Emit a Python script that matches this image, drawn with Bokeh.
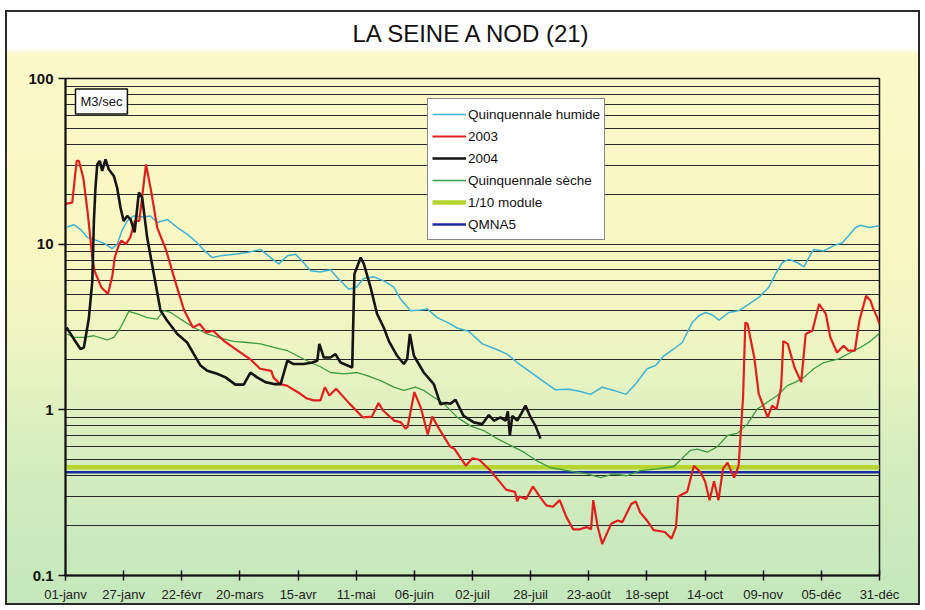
from bokeh.plotting import figure
from bokeh.models import (Range1d, FixedTicker, CustomJSTickFormatter, Label, Legend, LegendItem, Title)
from bokeh.embed import file_html
from bokeh.resources import INLINE

# ---------------- data ----------------
tick_days = [0, 26, 52, 78, 104, 130, 156, 182, 208, 234, 260, 286, 312, 338, 364]
tick_labels = ["01-janv", "27-janv", "22-févr", "20-mars", "15-avr", "11-mai", "06-juin",
               "02-juil", "28-juil", "23-août", "18-sept", "14-oct", "09-nov", "05-déc", "31-déc"]

humide_days = [0.7, 3.7, 6.7, 9.7, 14.2, 17.9, 20.8, 23.1, 25.3, 27.6, 30.5, 35, 38, 41, 45.5, 50, 54.4,
               58.9, 61.9, 65.6, 69.3, 75.3, 81.3, 87.2, 91.7, 95.4, 99.2, 102.9, 106.6, 109.6, 114, 118.5,
               121.5, 126.7, 130, 133.4, 137.9, 142.3, 146.8, 149.8, 154.3, 158.8, 161.8, 166.2, 170.7,
               175.2, 180.4, 186.4, 192.3, 197.5, 202, 207.2, 213.2, 219.1, 225, 230.3, 234.8, 240, 245.2,
               250.7, 254.9, 260.1, 263.9, 267.6, 272, 275.8, 280.3, 283.2, 286.2, 289.2, 292.2, 296.6,
               301.1, 305.6, 310, 314.5, 317.5, 320.5, 323.5, 327.2, 330.2, 332.4, 334.6, 339.1, 343.6,
               347.4, 349.6, 353.3, 355.5, 359.3, 364]
humide_vals = [12.7, 13.1, 12.3, 11, 10.5, 10, 9.4, 10, 12.1, 13.8, 14.8, 14.6, 14.8, 13.5, 14.1, 12.6, 11.5,
               10.2, 9.2, 8.3, 8.5, 8.7, 8.9, 9.3, 8.3, 7.6, 8.5, 8.7, 7.7, 6.9, 6.8, 7.0,
               6.3, 5.35, 5.5, 6.2, 6.35, 6.0, 5.5, 4.66, 3.97, 4.0, 4.06, 3.6, 3.37,
               3.12, 2.97, 2.5, 2.33, 2.17, 1.93, 1.72, 1.50, 1.32, 1.33, 1.29, 1.24, 1.37, 1.31,
               1.24, 1.43, 1.77, 1.85, 2.12, 2.33, 2.55, 3.37, 3.7, 3.87, 3.75, 3.48, 3.87,
               3.97, 4.35, 4.77, 5.5, 6.6, 7.75, 8.1, 7.75, 7.3, 8.3, 9.3, 9.1, 9.8,
               10.2, 11, 12.6, 13, 12.6, 12.9]

y2003_days = [0, 3, 5, 6, 8, 10, 12, 13, 16, 19, 21, 22, 24, 25, 27, 29, 31, 33, 36, 38, 41, 45, 49, 53,
              57, 60, 63, 66, 71, 77, 83, 87, 92, 93, 96, 99, 105, 108, 111, 114, 116, 118, 121, 127,
              133, 137, 140, 142, 147, 150, 152, 153, 156, 159, 162, 164, 167, 172, 174, 179, 182, 185,
              190, 194, 197, 201, 202, 203, 206, 209, 212, 215, 218, 221, 224, 227, 230, 233, 235, 236,
              238, 240, 244, 247, 249, 253, 255, 257, 260, 263, 268, 271, 273, 274, 278, 281, 284, 286,
              288, 290, 292, 294, 296, 299, 301, 303, 304, 305, 308, 310, 314, 316, 318, 320, 321, 323,
              326, 329, 331, 334, 337, 340, 342, 345, 348, 350, 353, 355, 358, 360, 361, 363, 364]
y2003_vals = [17.5, 17.8, 31.8, 31.8, 25, 15.2, 8.3, 6.9, 5.5, 5.0, 6.5, 8.3, 10, 10.5, 10, 11, 13.8, 13.8,
              30.3, 22, 12.6, 9.2, 6.0, 4.0,
              3.14, 3.3, 2.93, 3.0, 2.6, 2.28, 2.0, 1.77, 1.72, 1.57, 1.43, 1.40, 1.25, 1.17, 1.14, 1.14,
              1.37, 1.22, 1.34, 1.09,
              0.90, 0.91, 1.1, 0.99, 0.86, 0.84, 0.77, 0.79, 1.28, 1.02, 0.71, 0.91, 0.77, 0.60, 0.58,
              0.46, 0.51, 0.50,
              0.43, 0.37, 0.33, 0.32, 0.28, 0.30, 0.29, 0.345, 0.30, 0.265, 0.26, 0.285, 0.225, 0.19,
              0.19, 0.196, 0.19, 0.285,
              0.196, 0.155, 0.205, 0.215, 0.21, 0.27, 0.28, 0.24, 0.215, 0.188, 0.183, 0.167, 0.196,
              0.30, 0.32, 0.46, 0.42, 0.37,
              0.285, 0.37, 0.285, 0.44, 0.48, 0.39, 0.46, 1.2, 3.37, 3.3, 2.07, 1.25, 0.90, 1.06, 1.01,
              1.37, 2.6, 2.5,
              1.8, 1.47, 2.87, 3.0, 4.35, 3.8, 2.74, 2.22, 2.44, 2.28, 2.28, 3.45, 4.88, 4.55, 4.15,
              3.6, 3.3]

y2004_days = [0.5, 3.7, 6.7, 8.2, 10.4, 12, 12.7, 13.4, 14.2, 15.3, 16.4, 17.9, 19.4, 21.6, 23.1, 24.6,
              26, 27.6, 29.1, 30.9, 32.8, 34.3, 36.5, 39.5, 42.5, 45.5, 50, 54.4, 57.4, 60.4, 63.4, 67.8,
              71.6, 76, 79.7, 82.7, 85.7, 89.4, 93.2, 96.2, 99.2, 102, 106.6, 110.3, 112.6, 113.5, 115.5,
              118.5, 120.7, 123, 128.2, 129.2, 132, 133.4, 136.4, 139.3, 142.3, 144.6, 148.3, 151.3,
              152.8, 154, 155.8, 160.2, 164.7, 167.7, 170, 172.2, 174.4, 178, 182.6, 186.4, 189.3, 191.6,
              194.5, 196.8, 197.8, 198.7, 199.8, 202, 203.8, 205.7, 208, 210.2, 212.4]
y2004_vals = [3.14, 2.68, 2.33, 2.38, 3.53, 6.0, 13.8, 21.9, 30.3, 31.8, 27.7, 32.5, 28.2, 25.8, 21.9, 16.6,
              13.8, 14.8, 14.1, 11.8, 20.5, 19.1, 11, 6.6, 3.97, 3.45, 2.87, 2.55, 2.17, 1.85, 1.72, 1.65,
              1.57, 1.42, 1.42, 1.68, 1.57, 1.47, 1.43, 1.43, 1.98, 1.89, 1.89, 1.93, 1.98, 2.5, 2.07,
              2.07, 2.17, 1.93, 1.8, 6.6, 8.3, 7.6, 5.5, 3.8, 3.14, 2.6, 2.12, 1.89,
              2.03, 2.87, 2.12, 1.68, 1.43, 1.08, 1.1, 1.09, 1.15, 0.92, 0.84, 0.82, 0.93, 0.86,
              0.90, 0.86, 0.98, 0.70, 0.92, 0.86, 0.95, 1.06, 0.90, 0.80, 0.67]

seche_days = [0.7, 3.7, 8.2, 12.7, 18.6, 21.6, 24.6, 28.3, 32.1, 36.5, 41, 44, 47, 51.4, 57.4, 63.4, 69.3,
              75.3, 81.3, 87.2, 93.2, 99.2, 105.1, 109.6, 114, 118.5, 124.5, 130.4, 134.9, 140.9, 146.8,
              151.3, 156.5, 160.2, 164.7, 169.2, 175.2, 181, 187, 193, 199, 205, 211, 217, 224.4, 233.3,
              239.3, 245.2, 251, 257, 264.6, 272, 275.8, 279.5, 282.5, 287, 291.5, 296, 300.3, 304.9,
              309.3, 313.8, 318.3, 322.8, 326.5, 330.2, 334.6, 339.1, 345.8, 351.1, 355.5, 360, 364]
seche_vals = [2.87, 2.74, 2.74, 2.80, 2.64, 2.74, 3.14, 3.93, 3.79, 3.6, 3.53, 3.97, 3.87, 3.53, 3.14, 2.87,
              2.71, 2.59, 2.55, 2.5, 2.38, 2.28, 2.07, 1.93, 1.82, 1.68, 1.65, 1.68, 1.61, 1.50, 1.37,
              1.31, 1.37, 1.31, 1.19, 1.09, 0.90, 0.80, 0.75, 0.67, 0.61, 0.555, 0.49, 0.447, 0.43, 0.41,
              0.39, 0.41, 0.40, 0.43, 0.44, 0.455, 0.51, 0.57, 0.58, 0.555, 0.60, 0.70, 0.72, 0.82,
              1.01, 1.11, 1.22, 1.40, 1.47, 1.57, 1.77, 1.93, 2.03, 2.22, 2.38, 2.6, 2.9]

module_value = 0.45
qmna5_value = 0.42

y_major = [0.1, 1, 10, 100]
y_minor = [0.2, 0.3, 0.4, 0.5, 0.6, 0.7, 0.8, 0.9, 2, 3, 4, 5, 6, 7, 8, 9,
           20, 30, 40, 50, 60, 70, 80, 90]

# ---------------- figure ----------------
p = figure(width=915, height=595, output_backend="svg", toolbar_location=None,
           y_axis_type="log", x_range=Range1d(tick_days[0], tick_days[-1]),
           y_range=Range1d(0.1, 100),
           min_border_left=60, min_border_right=41, min_border_top=68, min_border_bottom=30)

p.background_fill_color = None
p.border_fill_color = None
p.outline_line_color = "#111111"
p.outline_line_width = 1.5
p.styles = {
    "margin": "10px 0px 0px 5px",
    "background": "linear-gradient(to bottom, #ffffff 0px, #ffffff 38px, #fcf9c9 44px, #f9f7c3 40%, "
                  "#eef5c2 56%, #d9eec0 72%, #cbeabd 88%, #c4e8bc 100%)",
    "box-shadow": "inset 0 0 0 2px #2a2a2a",
}

p.title.text = "LA SEINE A NOD (21)"
p.title.align = "center"
p.title.text_font = "Liberation Sans"
p.title.text_font_size = "24px"
p.title.text_font_style = "normal"
p.title.text_color = "#111111"
p.title.standoff = 0

# empty spacer between the title and the frame
spacer = Title(text=" ", text_font_size="10px", standoff=19)
p.add_layout(spacer, "above")

# axes
p.xaxis.ticker = FixedTicker(ticks=tick_days)
p.xaxis.major_label_overrides = {d: l for d, l in zip(tick_days, tick_labels)}
p.xaxis.major_label_text_font = "Liberation Sans"
p.xaxis.major_label_text_font_size = "13px"
p.xaxis.major_label_text_color = "#222222"
p.xaxis.major_tick_in = 5
p.xaxis.major_tick_out = 5
p.xaxis.major_label_standoff = 6
p.xaxis.minor_tick_line_color = None
p.xaxis.axis_line_width = 2
p.xaxis.major_tick_line_width = 1.5
p.xaxis.axis_line_color = "#111111"
p.xaxis.major_tick_line_color = "#111111"

p.yaxis.ticker = FixedTicker(ticks=y_major, minor_ticks=y_minor)
p.yaxis.formatter = CustomJSTickFormatter(code="return tick < 1 ? tick.toFixed(1) : tick.toFixed(0);")
p.yaxis.major_label_text_font = "Liberation Sans"
p.yaxis.major_label_text_font_size = "15px"
p.yaxis.major_label_text_font_style = "bold"
p.yaxis.major_label_text_color = "#111111"
p.yaxis.major_tick_in = 0
p.yaxis.major_tick_out = 7
p.yaxis.major_label_standoff = 5
p.yaxis.minor_tick_line_color = None
p.yaxis.axis_line_width = 2
p.yaxis.axis_line_color = "#111111"
p.yaxis.major_tick_line_width = 1.5
p.yaxis.major_tick_line_color = "#111111"

p.xgrid.grid_line_color = None
p.ygrid.grid_line_color = "#2a2a2a"
p.ygrid.grid_line_width = 1.2
p.ygrid.minor_grid_line_color = "#2a2a2a"
p.ygrid.minor_grid_line_width = 1.2

# ---------------- series ----------------
x_ends = [tick_days[0], tick_days[-1]]
r_mod = p.line(x_ends, [module_value, module_value], line_color="#b5d52c", line_width=4.5)
r_qm = p.line(x_ends, [qmna5_value, qmna5_value], line_color="#1c2c9e", line_width=2.5)
r_hum = p.line(humide_days, humide_vals, line_color="#3db4d6", line_width=1.5)
r_sec = p.line(seche_days, seche_vals, line_color="#3c9c40", line_width=1.3)
r_03 = p.line(y2003_days, y2003_vals, line_color="#e0201e", line_width=2.2)
r_04 = p.line(y2004_days, y2004_vals, line_color="#151515", line_width=2.6)

legend = Legend(items=[
    LegendItem(label="Quinquennale humide", renderers=[r_hum]),
    LegendItem(label="2003", renderers=[r_03]),
    LegendItem(label="2004", renderers=[r_04]),
    LegendItem(label="Quinquennale sèche", renderers=[r_sec]),
    LegendItem(label="1/10 module", renderers=[r_mod]),
    LegendItem(label="QMNA5", renderers=[r_qm]),
], location=(362, 335))
legend.label_text_font = "Liberation Sans"
legend.label_text_font_size = "13.5px"
legend.label_text_color = "#111111"
legend.glyph_width = 34
legend.glyph_height = 22
legend.label_height = 22
legend.label_standoff = 2
legend.spacing = 0
legend.padding = 4
legend.margin = 0
legend.border_line_color = "#111111"
legend.border_line_width = 1.5
legend.background_fill_color = "white"
legend.background_fill_alpha = 1
p.add_layout(legend, "center")

unit = Label(x=10, y=474, x_units="screen", y_units="screen", text="M3/sec",
             text_font="Liberation Sans", text_font_size="13px", text_color="#111111",
             text_baseline="middle", text_align="left",
             border_line_color="#111111", border_line_width=1.5,
             background_fill_color="white", background_fill_alpha=1, padding=5)
p.add_layout(unit)

open("out.html", "w").write(file_html(p, INLINE))
